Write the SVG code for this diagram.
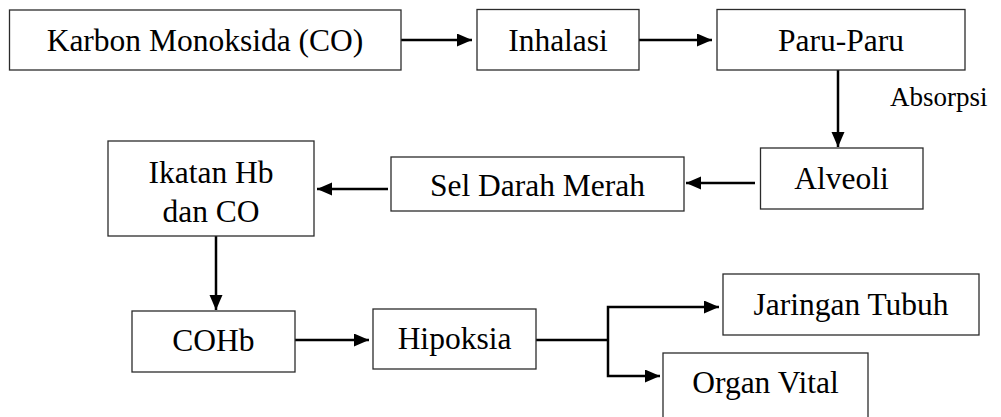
<svg xmlns="http://www.w3.org/2000/svg" width="1001" height="417" viewBox="0 0 1001 417">
<style>
.box{fill:#fff;stroke:#2b2b2b;stroke-width:1.3}
.t{font-size:31.5px;fill:#000;text-anchor:middle}
.lbl{font-size:27px;fill:#000}
.c{fill:none;stroke:#000;stroke-width:2.5}
.ca{fill:none;stroke:#000;stroke-width:2.5;marker-end:url(#ah)}
</style>
<defs>
<marker id="ah" markerUnits="userSpaceOnUse" markerWidth="16" markerHeight="14" refX="15" refY="6.5" orient="auto">
<path d="M0,0 L15,6.5 L0,13 z" fill="#000"/>
</marker>
</defs>
<rect width="1001" height="417" fill="#fff"/>
<g font-family="Liberation Serif, DejaVu Serif, serif">
<g id="connectors">
<line class="ca" x1="401" y1="40" x2="472" y2="40"/>
<line class="ca" x1="639" y1="40" x2="712" y2="40"/>
<line class="ca" x1="838" y1="70" x2="838" y2="147"/>
<line class="ca" x1="755" y1="183" x2="686" y2="183"/>
<line class="ca" x1="388" y1="189" x2="317" y2="189"/>
<line class="ca" x1="216" y1="236" x2="216" y2="310"/>
<line class="ca" x1="295" y1="340" x2="369" y2="340"/>
<polyline class="c" points="536,340 608,340"/>
<polyline class="ca" points="608,340 608,307 719,307"/>
<polyline class="ca" points="608,340 608,376 660,376"/>
<text class="lbl" x="890" y="106">Absorpsi</text>
</g>
<g id="n-karbon"><rect class="box" x="9.5" y="10" width="391.5" height="60"/><text class="t" x="205" y="51">Karbon Monoksida (CO)</text></g>
<g id="n-inhalasi"><rect class="box" x="477" y="9.5" width="162" height="60.5"/><text class="t" x="558" y="51">Inhalasi</text></g>
<g id="n-paru"><rect class="box" x="717" y="9.5" width="248" height="60.5"/><text class="t" x="841" y="51">Paru-Paru</text></g>
<g id="n-alveoli"><rect class="box" x="760.5" y="148" width="162.5" height="61"/><text class="t" x="841.5" y="189">Alveoli</text></g>
<g id="n-sel"><rect class="box" x="391" y="157" width="293" height="54"/><text class="t" x="537.5" y="196">Sel Darah Merah</text></g>
<g id="n-ikatan"><rect class="box" x="108" y="141" width="206" height="95"/><text class="t" x="211" y="183">Ikatan Hb</text><text class="t" x="211" y="222">dan CO</text></g>
<g id="n-cohb"><rect class="box" x="132" y="311" width="163" height="61"/><text class="t" x="213.5" y="351">COHb</text></g>
<g id="n-hipoksia"><rect class="box" x="373" y="309" width="163" height="60"/><text class="t" x="454.5" y="349">Hipoksia</text></g>
<g id="n-jaringan"><rect class="box" x="723" y="274" width="256" height="61"/><text class="t" x="851" y="315">Jaringan Tubuh</text></g>
<g id="n-organ"><rect class="box" x="663" y="353" width="205" height="70"/><text class="t" x="765.5" y="393">Organ Vital</text></g>
</g>
</svg>
